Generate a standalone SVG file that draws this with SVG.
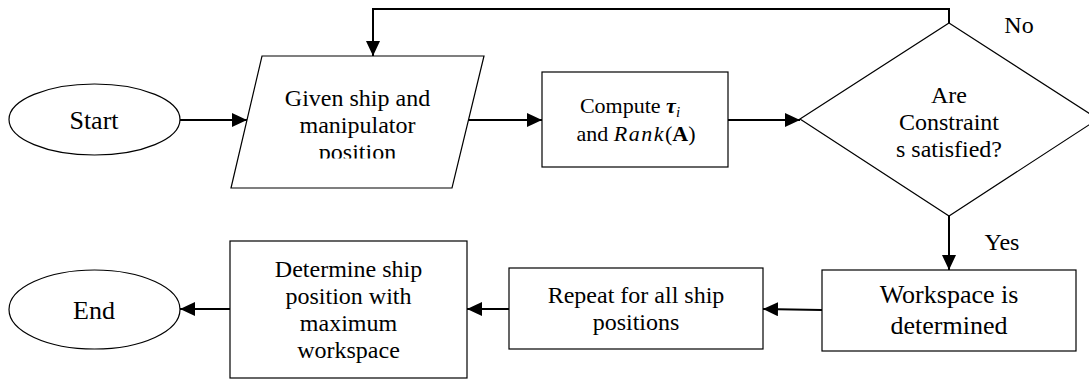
<svg xmlns="http://www.w3.org/2000/svg" width="1089" height="379" viewBox="0 0 1089 379">
  <style>
    .shape { fill: #ffffff; stroke: #000000; stroke-width: 1.2; }
    .conn { fill: none; stroke: #000000; stroke-width: 2; }
    text { fill: #000000; text-anchor: middle; }
    .t24 { font-size: 24px; }
    .t26 { font-size: 26px; }
    .t22 { font-size: 22px; }
  </style>
  <defs>
    <marker id="arrow" markerUnits="userSpaceOnUse" markerWidth="16" markerHeight="14" refX="15" refY="7" orient="auto">
      <path d="M0,0 L15,7 L0,14 Z" fill="#000000"/>
    </marker>
    <clipPath id="inputClip">
      <rect x="200" y="56" width="300" height="102.5"/>
    </clipPath>
  </defs>
  <rect width="1089" height="379" fill="#ffffff"/>

  <g id="connectors">
    <line class="conn" x1="180" y1="120" x2="247" y2="120" marker-end="url(#arrow)"/>
    <line class="conn" x1="469" y1="120" x2="542" y2="120" marker-end="url(#arrow)"/>
    <line class="conn" x1="728" y1="120" x2="800" y2="120" marker-end="url(#arrow)"/>
    <polyline class="conn" points="949,23 949,9 373,9 373,56" marker-end="url(#arrow)"/>
    <line class="conn" x1="949" y1="216" x2="949" y2="270" marker-end="url(#arrow)"/>
    <line class="conn" x1="822" y1="310" x2="763" y2="309" marker-end="url(#arrow)"/>
    <line class="conn" x1="509" y1="309" x2="467" y2="309" marker-end="url(#arrow)"/>
    <line class="conn" x1="230" y1="309" x2="180" y2="309" marker-end="url(#arrow)"/>
  </g>

  <g id="start">
    <ellipse class="shape" cx="94.5" cy="119.5" rx="85.5" ry="35.5"/>
    <text class="t26" x="94" y="129" font-family="Liberation Serif, Times New Roman, Tinos, serif">Start</text>
  </g>

  <g id="input">
    <polygon class="shape" points="262,56 484,56 452,188 231,188"/>
    <g clip-path="url(#inputClip)">
      <text class="t24" x="357.5" y="106" font-family="Liberation Serif, Times New Roman, Tinos, serif">Given ship and</text>
      <text class="t24" x="357.5" y="133" font-family="Liberation Serif, Times New Roman, Tinos, serif">manipulator</text>
      <text class="t24" x="357.5" y="160" font-family="Liberation Serif, Times New Roman, Tinos, serif">position</text>
    </g>
  </g>

  <g id="compute">
    <rect class="shape" x="542" y="72" width="186" height="95"/>
    <text class="t22" x="630" y="113" font-family="Liberation Serif, Times New Roman, Tinos, serif">Compute <tspan font-weight="bold" font-style="italic">τ</tspan><tspan font-style="italic" font-size="15" dy="4">i</tspan></text>
    <text class="t22" x="636" y="141" font-family="Liberation Serif, Times New Roman, Tinos, serif">and <tspan font-style="italic" letter-spacing="1.5">Rank</tspan>(<tspan font-weight="bold">A</tspan>)</text>
  </g>

  <g id="decision">
    <polygon class="shape" points="949,23 1098,119 949,216 800,119"/>
    <text class="t24" x="949" y="103" font-family="Liberation Serif, Times New Roman, Tinos, serif">Are</text>
    <text class="t24" x="949" y="130" font-family="Liberation Serif, Times New Roman, Tinos, serif">Constraint</text>
    <text class="t24" x="949" y="157" font-family="Liberation Serif, Times New Roman, Tinos, serif">s satisfied?</text>
  </g>

  <g id="labels">
    <text class="t24" x="1019" y="33" font-family="Liberation Serif, Times New Roman, Tinos, serif">No</text>
    <text class="t24" x="1002" y="250" font-family="Liberation Serif, Times New Roman, Tinos, serif">Yes</text>
  </g>

  <g id="workspace">
    <rect class="shape" x="822" y="270" width="254" height="81"/>
    <text class="t26" x="949" y="303" font-family="Liberation Serif, Times New Roman, Tinos, serif">Workspace is</text>
    <text class="t26" x="949" y="334" font-family="Liberation Serif, Times New Roman, Tinos, serif">determined</text>
  </g>

  <g id="repeat">
    <rect class="shape" x="509" y="268" width="254" height="81"/>
    <text class="t24" x="636" y="303" font-family="Liberation Serif, Times New Roman, Tinos, serif">Repeat for all ship</text>
    <text class="t24" x="636" y="330" font-family="Liberation Serif, Times New Roman, Tinos, serif">positions</text>
  </g>

  <g id="select">
    <rect class="shape" x="230" y="241" width="237" height="137"/>
    <text class="t24" x="348.5" y="277" font-family="Liberation Serif, Times New Roman, Tinos, serif">Determine ship</text>
    <text class="t24" x="348.5" y="304" font-family="Liberation Serif, Times New Roman, Tinos, serif">position with</text>
    <text class="t24" x="348.5" y="331" font-family="Liberation Serif, Times New Roman, Tinos, serif">maximum</text>
    <text class="t24" x="348.5" y="358" font-family="Liberation Serif, Times New Roman, Tinos, serif">workspace</text>
  </g>

  <g id="end">
    <ellipse class="shape" cx="94.5" cy="309.5" rx="85.5" ry="39.5"/>
    <text class="t26" x="94" y="319" font-family="Liberation Serif, Times New Roman, Tinos, serif">End</text>
  </g>
</svg>
